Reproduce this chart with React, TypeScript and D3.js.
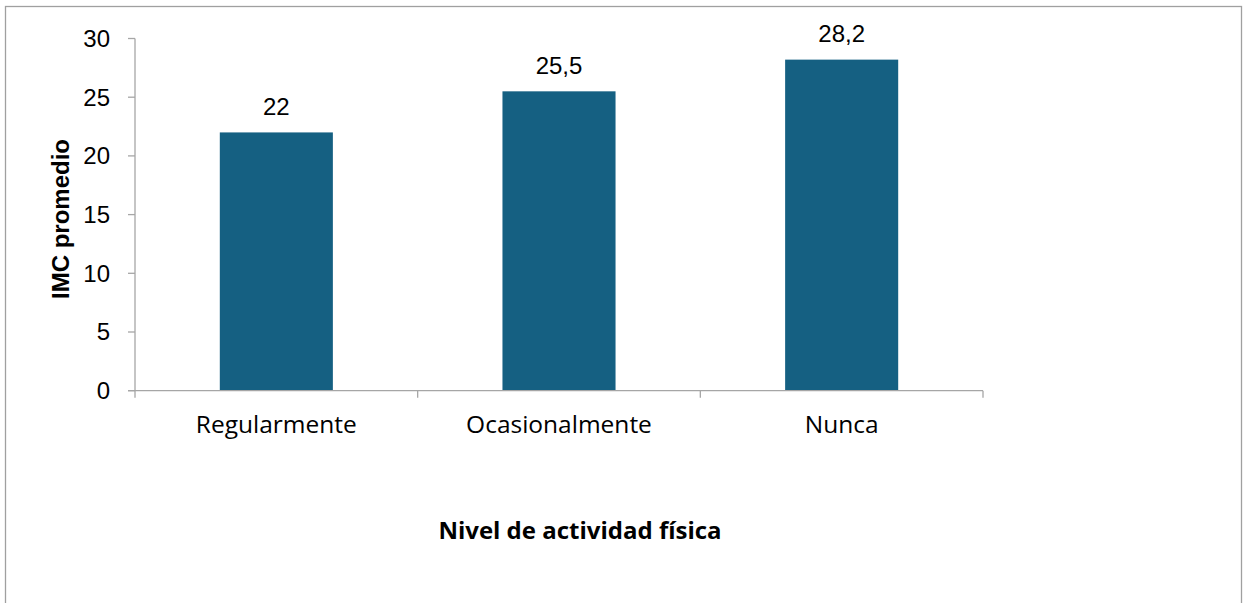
import React from "react";
import * as d3 from "d3";

const categories = ["Regularmente", "Ocasionalmente", "Nunca"];
const values = [22, 25.5, 28.2];
const valueLabels = ["22", "25,5", "28,2"];
const yTicks = [0, 5, 10, 15, 20, 25, 30];

const W = 1243;
const H = 603;

export default function App() {
  const left = 135;
  const right = 983;
  const top = 38.5;
  const bottom = 390.7;
  const x = d3.scaleBand<string>().domain(categories).range([left, right]).paddingInner(0).paddingOuter(0);
  const y = d3.scaleLinear().domain([0, 30]).range([bottom, top]);
  const bw = x.bandwidth() * 0.4;
  const axisColor = "#a6a6a6";
  const numFont = "'Liberation Sans', Arial, sans-serif";
  const catFont = "'Open Sans', sans-serif";
  const boundaries = [...categories.map((c) => x(c) as number), right];
  return (
    <svg width={W} height={H} style={{ position: "absolute", left: 0, top: 0 }}>
      <rect x={0} y={0} width={W} height={H} fill="#fff" />
      <rect x={5.5} y={6.5} width={1236} height={620} fill="none" stroke="#a0a0a0" strokeWidth={1.3} />
      {categories.map((c, i) => (
        <rect key={c} x={(x(c) as number) + (x.bandwidth() - bw) / 2} y={y(values[i])} width={bw} height={bottom - y(values[i])} fill="#156082" />
      ))}
      <line x1={left} x2={left} y1={y(30)} y2={bottom} stroke={axisColor} strokeWidth={1.3} />
      {yTicks.map((t) => (
        <g key={t}>
          <line x1={128} x2={left} y1={y(t)} y2={y(t)} stroke={axisColor} strokeWidth={1.3} />
          <text x={110} y={y(t)} dy="0.35em" textAnchor="end" fontFamily={numFont} fontSize={24} fill="#000">{t}</text>
        </g>
      ))}
      <line x1={left - 7} x2={right} y1={bottom} y2={bottom} stroke={axisColor} strokeWidth={1.3} />
      {boundaries.map((b, i) => (
        <line key={i} x1={b} x2={b} y1={bottom} y2={bottom + 7} stroke={axisColor} strokeWidth={1.3} />
      ))}
      {categories.map((c, i) => (
        <g key={c}>
          <text x={(x(c) as number) + x.bandwidth() / 2} y={y(values[i]) - 26} dy="0.35em" textAnchor="middle" fontFamily={numFont} fontSize={24} fill="#000">{valueLabels[i]}</text>
          <text x={(x(c) as number) + x.bandwidth() / 2} y={424} dy="0.35em" textAnchor="middle" fontFamily={catFont} fontSize={24.5} fill="#000">{c}</text>
        </g>
      ))}
      <text x={580} y={531} dy="0.35em" textAnchor="middle" fontFamily={catFont} fontWeight="bold" fontSize={24} fill="#000">Nivel de actividad física</text>
      <text transform={`translate(61,${219}) rotate(-90)`} dy="0.35em" textAnchor="middle" fontFamily={numFont} fontWeight="bold" fontSize={24} fill="#000">IMC promedio</text>
    </svg>
  );
}
